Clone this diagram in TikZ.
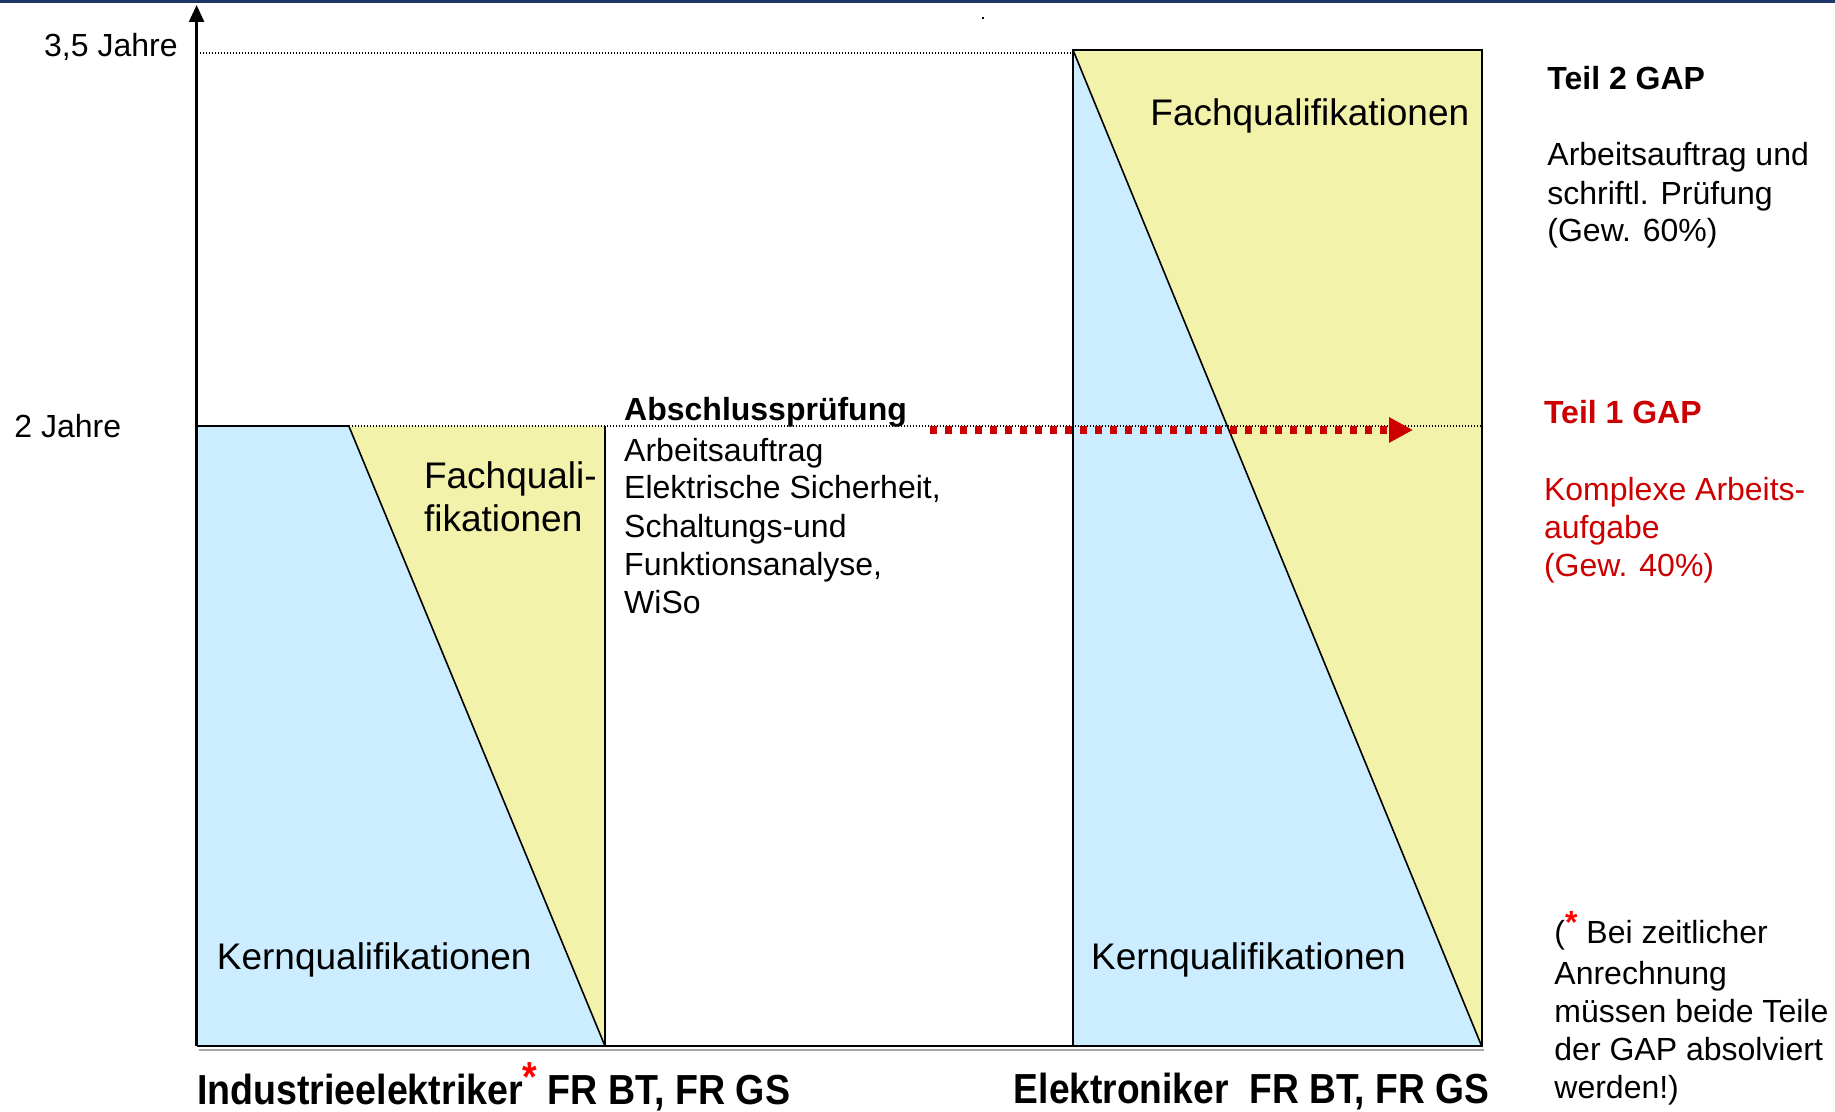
\documentclass[tikz,border=0pt]{standalone}
\usepackage{fontspec}
\setmainfont{Liberation Sans}
\usepackage{graphicx}
\usetikzlibrary{arrows.meta}
\definecolor{kernblue}{HTML}{CCECFF}
\definecolor{fachyellow}{HTML}{F2F2AA}
\definecolor{gapred}{HTML}{CC0000}
\definecolor{starred}{HTML}{FF0000}
\definecolor{navyline}{HTML}{1F3668}
\begin{document}
\begin{tikzpicture}[x=0.5pt,y=-0.5pt,
  txt/.style={inner sep=0pt, anchor=base west, font=\fontsize{16}{19}\selectfont},
  bigtxt/.style={inner sep=0pt, anchor=base west, font=\fontsize{18.5}{22}\selectfont},
  bottxt/.style={inner sep=0pt, anchor=base west, font=\fontsize{21}{25}\selectfont\bfseries},
  redtxt/.style={txt, text=gapred},
  dotline/.style={black, line width=0.65pt, dash pattern=on 0.6pt off 0.9pt},
  boxline/.style={black, line width=1pt},
  diagline/.style={black, line width=0.8pt},
  gaparrow/.style={gapred, line width=3.6pt, dash pattern=on 3.7pt off 3.8pt,
    -{Triangle[length=12pt,width=12pt]}}]
\useasboundingbox (0,0) rectangle (1835,1112);
% top rule
\draw[navyline, line width=1.5pt] (0,1.5) -- (1835,1.5);
\fill (982,17) rectangle (984,19);
% coordinates
\coordinate (origin) at (196.6,1046);
\coordinate (ytop) at (196.6,5);
\coordinate (y35) at (196.6,53);
\coordinate (y2) at (196.6,426);
\coordinate (lsplit) at (348.8,426);
\coordinate (ltr) at (605,426);
\coordinate (lbr) at (605,1046);
\coordinate (rtl) at (1073,50);
\coordinate (rtr) at (1481.6,50);
\coordinate (rbr) at (1481.6,1046);
\coordinate (rbl) at (1073,1046);
\coordinate (r2) at (1481.6,426);
\coordinate (r35) at (1073,53);
\coordinate (apStart) at (930,430);
\coordinate (apEnd) at (1413,430);
% fills
\fill[kernblue] (y2) -- (lsplit) -- (lbr) -- (origin) -- cycle;
\fill[fachyellow] (lsplit) -- (ltr) -- (lbr) -- cycle;
\fill[kernblue] (rtl) -- (rbr) -- (rbl) -- cycle;
\fill[fachyellow] (rtl) -- (rtr) -- (rbr) -- cycle;
% dotted level lines
\draw[dotline] (y35) -- (r35);
\draw[dotline] (lsplit) -- (r2);
% outlines
\draw[boxline] (y2) -- (lsplit);
\draw[boxline] (ltr) -- (lbr);
\draw[diagline] (lsplit) -- (lbr);
\draw[boxline] (rtl) rectangle (rbr);
\draw[diagline] (rtl) -- (rbr);
% bottom line with shadow
\draw[gray!70, line width=0.8pt] ([xshift=1pt,yshift=-2pt]origin) -- ([xshift=1pt,yshift=-2pt]rbr);
\draw[black, line width=1.3pt] (origin) -- (rbr);
% axis
\draw[black, line width=1.2pt, -{Triangle[length=8.5pt,width=7.5pt]}] (origin) -- (ytop);
% red arrow
\draw[gaparrow] (apStart) -- (apEnd);
% axis labels
\node[txt, anchor=base east] (l35) at (178,57) {3,5 Jahre};
\node[txt] (l2) at (14,437.5) {2 Jahre};
% box labels
\node[bigtxt] (fq1) at (423.6,488) {Fachquali-};
\node[bigtxt] (fq2) at (423.6,531.5) {fikationen};
\node[bigtxt] (kq1) at (216.5,969) {Kernqualifikationen};
\node[bigtxt] (kq2) at (1090.7,969) {Kernqualifikationen};
\node[bigtxt] (fq3) at (1150,125.5) {Fachqualifikationen};
% middle block
\node[txt, font=\fontsize{16}{19}\selectfont\bfseries] (ap) at (623.8,421) {Abschlussprüfung};
\node[txt] (ap1) at (623.8,461) {Arbeitsauftrag};
\node[txt] (ap2) at (623.8,498.5) {Elektrische Sicherheit,};
\node[txt] (ap3) at (623.8,537) {Schaltungs-und};
\node[txt] (ap4) at (623.8,575.5) {Funktionsanalyse,};
\node[txt] (ap5) at (623.8,613) {WiSo};
% right column
\node[txt, font=\fontsize{16}{19}\selectfont\bfseries] (t2) at (1547,90) {Teil 2 GAP};
\node[txt] (t2a) at (1547,166) {Arbeitsauftrag und};
\node[txt] (t2b) at (1547,204.5) {schriftl. Prüfung};
\node[txt] (t2c) at (1547,242) {(Gew. 60\%)};
\node[redtxt, font=\fontsize{16}{19}\selectfont\bfseries] (t1) at (1543.6,423.5) {Teil 1 GAP};
\node[redtxt] (t1a) at (1543.6,500.5) {Komplexe Arbeits-};
\node[redtxt] (t1b) at (1543.6,538.5) {aufgabe};
\node[redtxt] (t1c) at (1543.6,576.5) {(Gew. 40\%)};
% footnote
\node[txt] (fn1) at (1554,943) {(\raisebox{0.3em}{\textcolor{starred}{\bfseries *}} Bei zeitlicher};
\node[txt] (fn2) at (1554,984) {Anrechnung};
\node[txt] (fn3) at (1554,1022.5) {müssen beide Teile};
\node[txt] (fn4) at (1554,1060) {der GAP absolviert};
\node[txt] (fn5) at (1554,1098.5) {werden!)};
% bottom labels
\node[bottxt] (ie) at (196.6,1104) {\scalebox{0.895}[1]{Industrieelektriker\raisebox{0.3em}{\textcolor{starred}{*}} FR BT, FR GS}};
\node[bottxt] (el) at (1013.5,1103) {\scalebox{0.885}[1]{Elektroniker\ \ FR BT, FR GS}};
\end{tikzpicture}
\end{document}
